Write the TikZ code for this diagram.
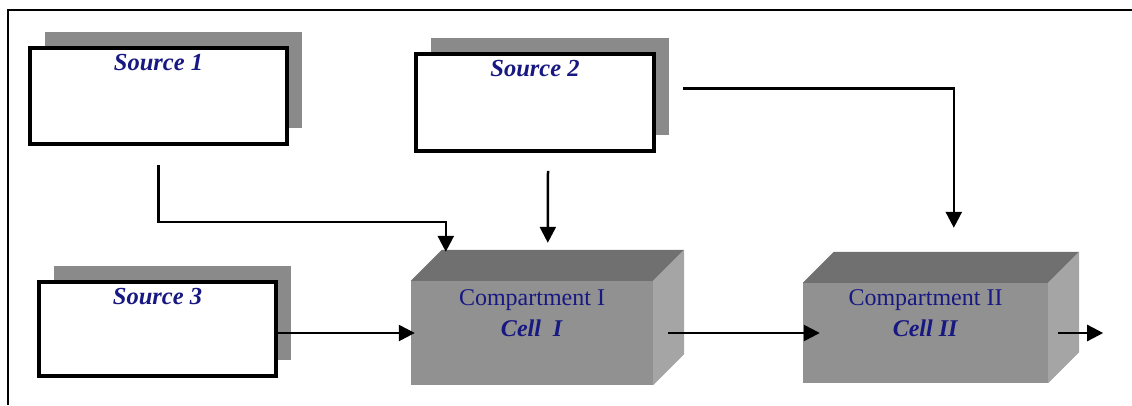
\documentclass[tikz,border=0pt]{standalone}
\usepackage{fontspec}
\setmainfont{Liberation Serif}
\usepackage{xcolor}
\usepackage{tikz}
\usetikzlibrary{arrows.meta,shadows}
\definecolor{labelblue}{RGB}{24,24,130}
\definecolor{shadowgray}{RGB}{138,138,138}
\definecolor{frontgray}{RGB}{145,145,145}
\definecolor{topgray}{RGB}{112,112,112}
\definecolor{sidegray}{RGB}{165,165,165}
\tikzstyle{source} = [rectangle, draw = black, line width=3.5pt, fill=white, copy shadow={shadow xshift=15pt, shadow yshift=16pt, fill=shadowgray, draw=none}]
\tikzstyle{srctext} = [anchor=north, yshift=-5pt, inner sep=3pt, text=labelblue, font=\fontsize{24.5}{28}\selectfont\bfseries\itshape]
\tikzstyle{front} = [rectangle, draw=none, fill=frontgray]
\tikzstyle{comptext} = [anchor=center, yshift=20pt, align=center, text=labelblue, font=\fontsize{24}{31}\selectfont]
\tikzstyle{topface} = [fill=topgray]
\tikzstyle{sideface} = [fill=sidegray]
\tikzstyle{arrow} = [line width=2.5pt, -{Triangle[length=16pt,width=16pt]}]

\begin{document}
\begin{tikzpicture}[x=1pt, y=-1pt]
\useasboundingbox (0,0) rectangle (1132,405);
\draw [line width=1.5pt] (1132,10) -- (8,10) -- (8,405);

\node(src1) [source, minimum width=257pt, minimum height=96pt, label={[srctext]north:Source 1}] at (158.5,96) {};
\node(src2) [source, minimum width=238pt, minimum height=97pt, label={[srctext]north:Source 2}] at (535,102.5) {};
\node(src3) [source, minimum width=237pt, minimum height=94pt, label={[srctext]north:Source 3}] at (157.5,329) {};

\node(comp1) [front, minimum width=242pt, minimum height=104pt, label={[comptext]center:{Compartment I\\\textbf{\textit{Cell~~I}}}}] at (532,333) {};
\fill [topface] (comp1.north west) -- ++(31,-31) -- ([shift={(31,-31)}]comp1.north east) -- (comp1.north east) -- cycle;
\fill [sideface] (comp1.north east) -- ++(31,-31) -- ([shift={(31,-31)}]comp1.south east) -- (comp1.south east) -- cycle;

\node(comp2) [front, minimum width=245pt, minimum height=100pt, label={[comptext]center:{Compartment II\\\textbf{\textit{Cell II}}}}] at (925.5,333) {};
\fill [topface] (comp2.north west) -- ++(31,-31) -- ([shift={(31,-31)}]comp2.north east) -- (comp2.north east) -- cycle;
\fill [sideface] (comp2.north east) -- ++(31,-31) -- ([shift={(31,-31)}]comp2.south east) -- (comp2.south east) -- cycle;

\coordinate (comp1in) at ([shift={(35,-29)}]comp1.north west);
\coordinate (comp1top) at ([shift={(137,-38)}]comp1.north west);
\coordinate (comp2top) at ([shift={(151,-55)}]comp2.north west);
\coordinate (src2out) at ([shift={(13,18)}]src2.south);
\coordinate (sink) at ([xshift=55pt]comp2.east);

\draw [arrow] ([yshift=-19pt]src1.south) |- ([yshift=30pt]comp1in) -- (comp1in);
\draw [arrow] (src2out) -- (comp1top);
\draw [arrow] ([shift={(27,-14)}]src2.east) -| (comp2top);
\draw [arrow] (src3.east |- comp1.west) -- ([xshift=4pt]comp1.west);
\draw [arrow] ([xshift=15pt]comp1.east) -- ([xshift=17pt]comp2.west);
\draw [arrow] ([xshift=10pt]comp2.east) -- (sink);

\end{tikzpicture}
\end{document}
